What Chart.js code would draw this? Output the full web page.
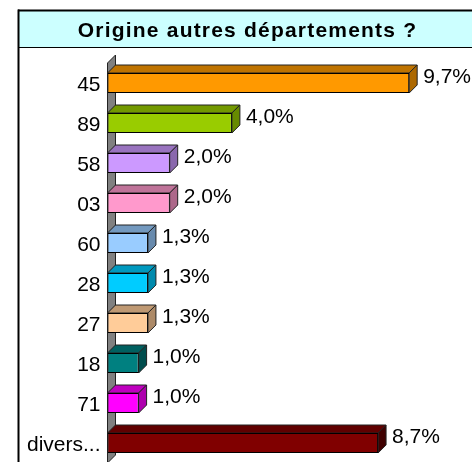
<!DOCTYPE html>
<html>
<head>
<meta charset="utf-8">
<style>
html, body { margin: 0; padding: 0; background: #fff; overflow: hidden; width: 472px; height: 462px; }
canvas { display: block; }
</style>
<script src="https://cdn.jsdelivr.net/npm/chart.js@4"></script>
</head>
<body>
<canvas id="c" width="472" height="480"></canvas>
<script>
const categories = ['45', '89', '58', '03', '60', '28', '27', '18', '71', 'divers...'];
const values = [9.7, 4.0, 2.0, 2.0, 1.3, 1.3, 1.3, 1.0, 1.0, 8.7];
const frontColors = ['#FF9900', '#99CC00', '#CC99FF', '#FF99CC', '#99CCFF', '#00CCFF', '#FFCC99', '#008080', '#FF00FF', '#800000'];
const topColors = ['#BF7300', '#739900', '#9973BF', '#BF7399', '#7399BF', '#0099BF', '#BF9973', '#006060', '#BF00BF', '#600000'];
const sideColors = ['#AD6800', '#678A00', '#8A68AD', '#AD688A', '#688AAD', '#008AAD', '#AD8A68', '#004D4D', '#AD00AD', '#400000'];
const titleText = 'Origine autres départements ?';

const depth = 8;
const fontName = '"Liberation Sans", Arial, sans-serif';

function face(ctx, pts, fill) {
    ctx.beginPath();
    pts.forEach((p, i) => i ? ctx.lineTo(p[0], p[1]) : ctx.moveTo(p[0], p[1]));
    ctx.closePath();
    ctx.fillStyle = fill;
    ctx.fill();
    ctx.lineWidth = 1;
    ctx.strokeStyle = '#222';
    ctx.stroke();
}

const frame = {
    id: 'frame',
    beforeDraw(chart) {
        const ctx = chart.ctx;
        ctx.save();
        ctx.fillStyle = '#CCFFFF';
        ctx.fillRect(18, 10, 454, 37);
        ctx.fillStyle = '#000';
        ctx.fillRect(18, 9.5, 454, 2);
        ctx.fillRect(17.5, 9.5, 2, 453);
        ctx.fillRect(18, 47, 454, 1);
        ctx.restore();
        // only the title gets the wider letters
        ctx.letterSpacing = '1.2px';
    },
    beforeDatasetsDraw(chart) {
        const ctx = chart.ctx;
        ctx.letterSpacing = '0px';
        const a = chart.chartArea;
        ctx.save();
        face(ctx, [[a.left, a.top], [a.left + depth, a.top - depth], [a.left + depth, a.bottom - depth], [a.left, a.bottom]], '#808080');
        chart.getDatasetMeta(0).data.forEach((bar, i) => {
            const h = bar.height / 2;
            face(ctx, [[bar.base, bar.y - h], [bar.base + depth, bar.y - h - depth], [bar.x + depth, bar.y - h - depth], [bar.x, bar.y - h]], topColors[i]);
            face(ctx, [[bar.x, bar.y - h], [bar.x + depth, bar.y - h - depth], [bar.x + depth, bar.y + h - depth], [bar.x, bar.y + h]], sideColors[i]);
        });
        ctx.restore();
    },
    afterDatasetsDraw(chart) {
        const ctx = chart.ctx;
        ctx.save();
        ctx.font = '21px ' + fontName;
        ctx.fillStyle = '#000';
        ctx.textBaseline = 'middle';
        chart.getDatasetMeta(0).data.forEach((bar, i) => {
            ctx.fillText(values[i].toFixed(1).replace('.', ',') + '%', bar.x + 14, bar.y - 5.5);
        });
        ctx.restore();
    }
};

new Chart(document.getElementById('c').getContext('2d'), {
    type: 'bar',
    data: {
        labels: categories,
        datasets: [{
            data: values,
            backgroundColor: frontColors,
            borderColor: '#000',
            borderWidth: 1,
            borderSkipped: false,
            barPercentage: 0.5,
            categoryPercentage: 1
        }]
    },
    options: {
        indexAxis: 'y',
        responsive: false,
        animation: false,
        layout: { padding: { left: 23, right: 0, top: 11, bottom: 17 } },
        scales: {
            x: { display: false, min: 0, max: 364.5 / 31.1 },
            y: {
                afterFit: s => {
                    s.width = 84.5;
                    s.paddingTop = 0;
                    s.paddingBottom = 0;
                },
                grid: { display: false, drawTicks: false },
                border: { display: false },
                ticks: {
                    z: 1,
                    color: '#000',
                    padding: 7,
                    labelOffset: 2,
                    autoSkip: false,
                    font: { family: fontName, size: 21 }
                }
            }
        },
        plugins: {
            legend: { display: false },
            tooltip: { enabled: false },
            title: {
                display: true,
                text: titleText,
                color: '#000',
                font: { family: fontName, size: 21, weight: 'bold', lineHeight: 1.2 },
                padding: { top: 8, bottom: 18.8 }
            }
        }
    },
    plugins: [frame]
});
</script>
</body>
</html>
